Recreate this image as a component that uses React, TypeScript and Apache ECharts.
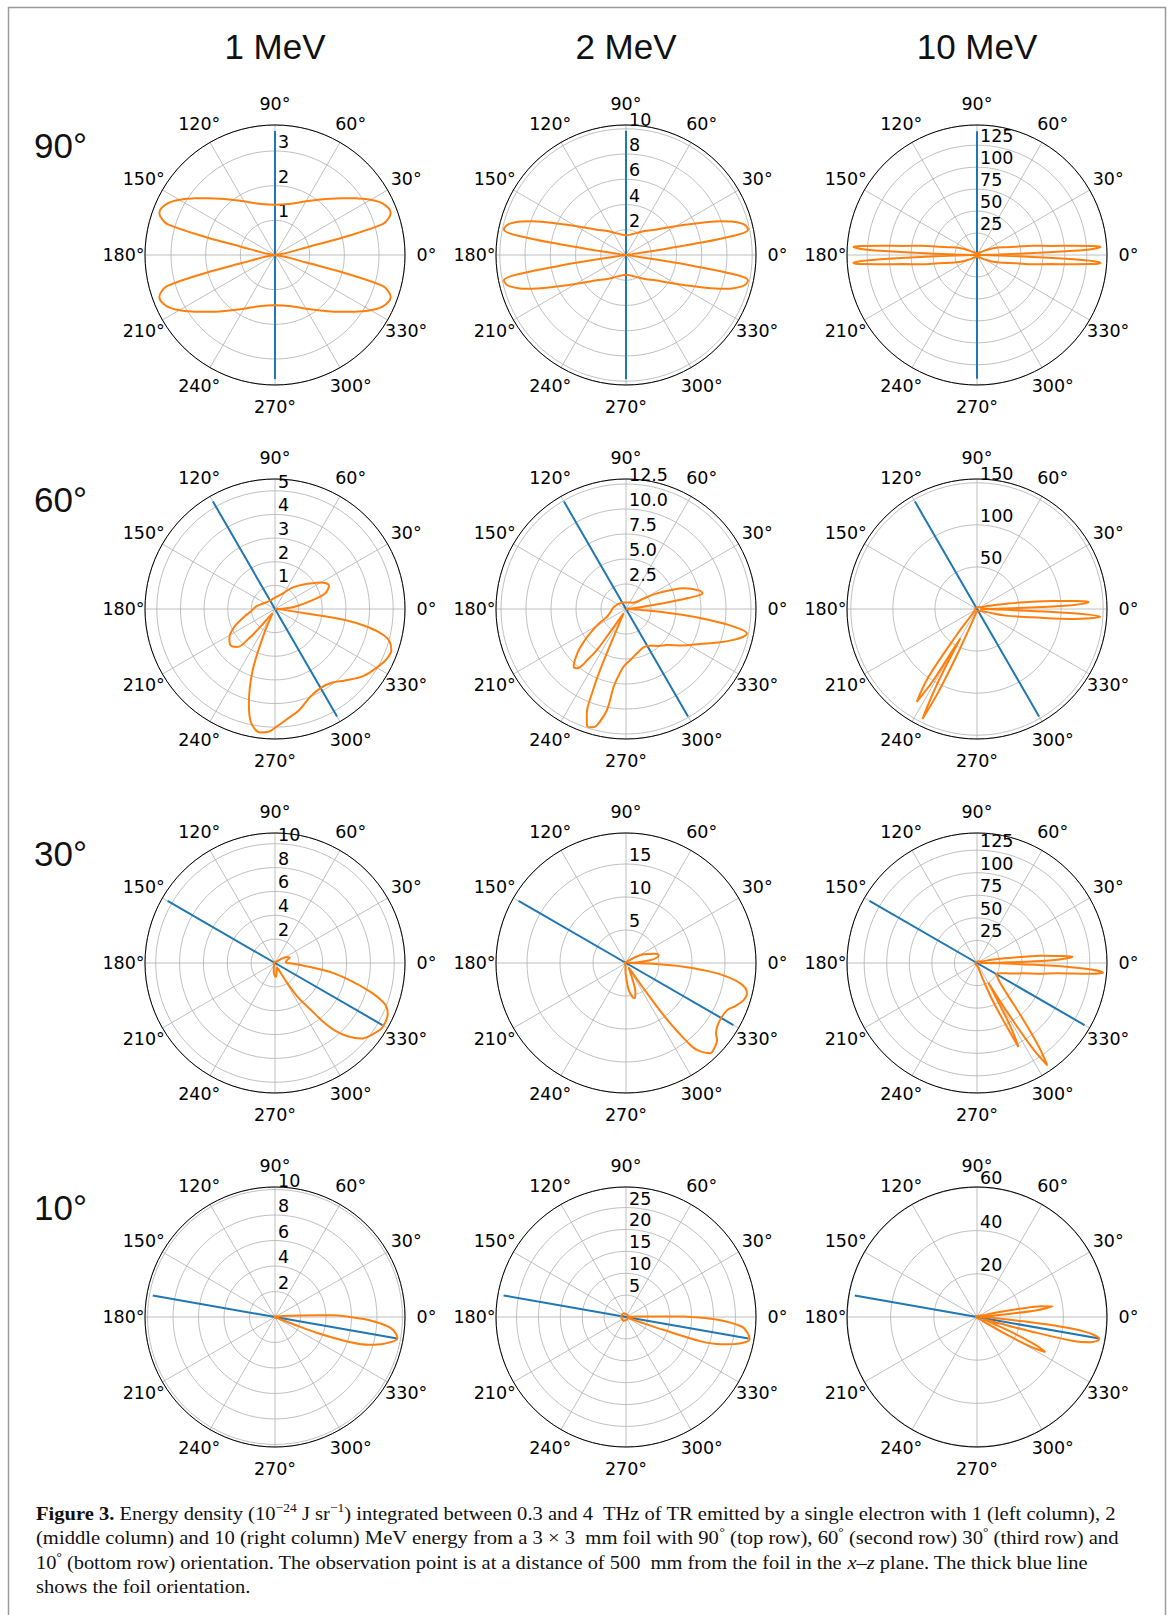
import { useEffect, useRef } from 'react';
import * as echarts from 'echarts';

// ---------------- data ----------------
const ENERGY_TITLES = ['1 MeV', '2 MeV', '10 MeV'];
const ORIENTATION_LABELS = ['90°', '60°', '30°', '10°'];
// foil orientation line angle (deg) per row
const FOIL_ANGLE_DEG = [90, 120, 150, 170];
const ANGLE_TICKS = [0, 30, 60, 90, 120, 150, 180, 210, 240, 270, 300, 330];

// radial axis extent / step / decimals, rows x columns
const R_MAX = [
  [3.75, 10.3, 148],
  [5.5, 13, 154.5],
  [10.9, 19.7, 144],
  [10.2, 29.7, 60.2],
];
const R_STEP = [
  [1, 2, 25],
  [1, 2.5, 50],
  [2, 5, 25],
  [2, 5, 20],
];
const R_DECIMALS = [
  [0, 0, 0],
  [0, 1, 0],
  [0, 0, 0],
  [0, 0, 0],
];
// half-length of the foil line (radial units)
const FOIL_LENGTH = [
  [3.58, 9.84, 141],
  [5.25, 12.4, 147.5],
  [10.4, 18.8, 137.5],
  [9.74, 28.4, 57.5],
];

// energy density curves: [angle deg, value]
const E1_90 = [[0,0],[8,0.1],[11,0.4],[13.6,0.93],[14.5,2.07],[16,3.23],[18,3.45],[20,3.55],[25.7,3.44],[31.2,3.11],[35,2.85],[40,2.55],[48,2.17],[60,1.79],[72.6,1.55],[90,1.45],
  [107.4,1.55],[120,1.79],[132,2.17],[140,2.55],[145,2.85],[148.8,3.11],[154.3,3.44],[160,3.55],[162,3.45],[164,3.23],[165.5,2.07],[166.4,0.93],[169,0.4],[172,0.1],[180,0],
  [188,0.1],[191,0.4],[193.6,0.93],[194.5,2.07],[196,3.23],[198,3.45],[200,3.55],[205.7,3.44],[211.2,3.11],[215,2.85],[220,2.55],[228,2.17],[240,1.79],[252.6,1.55],[270,1.45],
  [287.4,1.55],[300,1.79],[312,2.17],[320,2.55],[325,2.85],[328.8,3.11],[334.3,3.44],[340,3.55],[342,3.45],[344,3.23],[345.5,2.07],[346.4,0.93],[349,0.4],[352,0.1],[360,0]];
const E2_90 = [[0,0],[6,0.1],[8,0.5],[8.7,2.4],[9.2,5.4],[10,8.4],[11.7,9.87],[13.5,9.8],[15.1,9.53],[17.5,8.8],[19.8,7.9],[25,5.88],[32,4.2],[40.7,3.08],[50,2.5],[58,2.15],[75,1.7],[90,1.56],
  [105,1.7],[122,2.15],[130,2.5],[139.3,3.08],[148,4.2],[155,5.88],[160.2,7.9],[162.5,8.8],[164.9,9.53],[166.5,9.8],[168.3,9.87],[170,8.4],[170.8,5.4],[171.3,2.4],[172,0.5],[174,0.1],[180,0],
  [186,0.1],[188,0.5],[188.7,2.4],[189.2,5.4],[190,8.4],[191.7,9.87],[193.5,9.8],[195.1,9.53],[197.5,8.8],[199.8,7.9],[205,5.88],[212,4.2],[220.7,3.08],[230,2.5],[238,2.15],[255,1.7],[270,1.56],
  [285,1.7],[302,2.15],[310,2.5],[319.3,3.08],[328,4.2],[335,5.88],[340.2,7.9],[342.5,8.8],[344.9,9.53],[346.5,9.8],[348.3,9.87],[350,8.4],[350.8,5.4],[351.3,2.4],[352,0.5],[354,0.1],[360,0]];
const E10_90 = [[0,0],[1,3],[1.5,25],[2,70],[2.5,110],[3,132],[3.7,141],[4.5,132],[5.7,106],[7,85],[9.5,64],[12,45],[16,32],[21.6,21.7],[30,10],[45,4],[90,2],
  [135,4],[150,10],[158.4,21.7],[164,32],[168,45],[170.5,64],[173,85],[174.3,106],[175.5,132],[176.3,141],[177,132],[177.5,110],[178,70],[178.5,25],[179,3],[180,0],
  [181,3],[181.5,25],[182,70],[182.5,110],[183,132],[183.7,141],[184.5,132],[185.7,106],[187,85],[189.5,64],[192,45],[196,32],[201.6,21.7],[210,10],[225,4],[270,2],
  [315,4],[330,10],[338.4,21.7],[344,32],[348,45],[350.5,64],[353,85],[354.3,106],[355.5,132],[356.3,141],[357,132],[357.5,110],[358,70],[358.5,25],[359,3],[360,0]];

const E1_60 = [[0,0],[3,0.3],[6,0.8],[11.3,1.36],[17,2.2],[23.5,2.49],[30,2.25],[38.5,1.7],[45,1.4],[52,1.12],[62,0.76],[75,0.58],[90,0.48],[110,0.42],[133,0.43],[155,0.55],[172,0.8],[186,1.03],
  [193,1.3],[200.9,1.71],[206,2.0],[211.5,2.26],[216,2.38],[220.5,2.42],[225.2,2.26],[228.4,1.67],[230.5,0.98],[233,0.4],[240,0.2],[244,0.5],[246,1.13],[250,2.76],[254.6,4.16],[258,4.9],[263.2,5.26],[267,5.2],[270.4,5.0],
  [276,4.7],[283.2,4.41],[292,4.0],[301,3.86],[308,3.95],[314.4,4.23],[323,4.7],[331.7,5.03],[336,5.18],[340.5,5.22],[344,5.05],[346.5,4.72],[349,4.0],[351,3.0],[352,1.35],[355,0.3],[360,0]];
const E2_60 = [[0,0],[4,0.3],[7,1.2],[8.5,3.5],[10,6.3],[11.6,7.82],[14,7.6],[19.8,6.12],[23,4.8],[26.8,3.47],[30,2.3],[33.6,1.32],[45,0.9],[70,0.7],[95,0.65],[122,0.75],[150,0.95],[175,1.3],[192,1.6],
  [202,2.05],[208,3.0],[214,4.32],[218,5.4],[222,6.5],[227.8,7.8],[230.4,7.69],[233,6.3],[234.7,5.02],[235.5,2.5],[237,1.0],[240,0.5],[243,0.6],[244.5,1.2],[246,3.03],[247,6.62],[248,9.0],[249.5,11.2],[251.6,12.33],
  [254,12.3],[256,11.96],[259.3,10.28],[261,7.87],[264,6.6],[267.6,5.77],[274.8,5.12],[284,4.56],[295,4.2],[303.5,4.4],[311,4.9],[318.7,5.46],[327,6.7],[334.8,8.21],[340,9.8],[344,11.2],
  [346.5,12.0],[348.6,12.34],[350.7,10.9],[352.5,8.3],[354,5.79],[356,2.44],[358,0.6],[360,0]];
const E10_60 = [[0,4],[1,30],[2,100],[3.4,133],[4.5,120],[6,90],[7.5,66.5],[10,38],[12.7,21.5],[18,9],[30,4],[60,2.5],[120,2],[180,2.5],[220,4],[228,10],[232,40],[234.5,100],[237,131.5],
  [238.5,100],[239.5,55],[240.5,40],[242,100],[243.6,146],[245,110],[246.5,60],[249,20],[255,6],[270,3],[300,3],[330,5],[342,12],[347,35],[351.5,66.6],[354,115],[356.4,146.9],[357.5,110],
  [358.5,40],[359.3,8],[360,4]];

const E1_30 = [[0,1.0],[5,0.9],[12,1.0],[20,1.3],[27,1.1],[35,0.5],[45,0.15],[90,0.1],[180,0.1],[240,0.15],[258,0.5],[266,0.95],[273,1.15],[280,0.8],[290,0.4],[298,0.6],[301.4,2.0],
  [303.5,3.3],[306.6,4.57],[311.4,7.5],[318.7,9.6],[324.6,10.2],[329.3,10.5],[335.9,10.35],[339.7,9.77],[343.7,8.09],[350,5.03],[355.5,2.17],[358,1.4],[360,1.0]];
const E2_30 = [[0,0.3],[3,1.5],[6,3.5],[10,4.8],[13.8,5.09],[18,4.5],[26.3,2.97],[33,1.5],[40,0.6],[60,0.2],[180,0.2],[255,0.3],[265,1.0],[270,2.0],[275.6,4.06],[281,5.3],[284.9,5.49],
  [288,4.6],[290.8,3.24],[295,1.5],[300,0.8],[302,1.0],[304.5,4.5],[306,10.6],[308,15.5],[309.2,17.0],[313,18.7],[316,18.6],[319.8,18.06],[322,17.3],[327.4,16.7],[335,16.9],
  [338.5,17.8],[342.5,18.7],[345.9,18.9],[349.9,17.6],[353.5,13.9],[356.3,8.74],[358.5,3.5],[360,0.3]];
const E10_30 = [[0,3],[1,30],[2,80],[3,100],[3.8,106],[5,90],[6.6,70.8],[9,35],[14,12],[25,4],[60,2],[180,2],[270,3],[285,5],[290,20],[293,50],[296.3,103.7],[297.8,80],[299,40],[300,25],
  [301.5,60],[303,110],[304.5,137.5],[306.5,115],[309.2,81.7],[314.3,47],[320,33],[326,27],[332,24.5],[338,30],[343,40],[347.5,52.9],[350,68],[352.7,89.8],[354.5,125],[355.6,140],
  [356.8,125],[358,80],[359.2,25],[360,3]];

const E1_10 = [[0,5.9],[1.6,4.63],[3.6,2.0],[6,0.7],[10,0.25],[20,0.1],[90,0.05],[180,0.05],[270,0.05],[320,0.1],[334,0.2],[337,0.5],[338.5,1.5],[339.3,3.55],[341.5,6.26],[343.5,7.7],
  [346.2,8.8],[350,9.75],[352,9.6],[354.6,9.11],[356.5,8.3],[358.3,7.25],[360,5.9]];
const E2_10 = [[0,15],[0.6,13.3],[1.4,5.6],[3,1.5],[6,0.4],[30,0.5],[60,0.6],[120,1.0],[180,1.1],[240,1.0],[300,0.6],[330,0.4],[338,0.5],[340,3.0],[341,9.0],[342,18.0],[344,22.5],
  [346,25.6],[348,27.8],[349.8,28.7],[352.5,28.0],[355.3,26.5],[358.3,21.0],[360,15]];
const E10_10 = [[0,1],[3,2],[5,10],[6.5,28],[8,35.4],[9.5,30],[11,20],[13,10],[16,3],[25,1],[90,0.5],[180,0.5],[270,0.5],[320,1],[326,4],[329,15],[331,28],[332.9,35.6],[334.5,30],
  [336,20],[338,8],[341,3],[344,8],[345,25],[346,46],[347.5,54],[349.8,57.5],[351.5,54],[352.9,45.2],[354,33],[354.7,21.6],[356,10],[358,3],[360,1]];

const CURVES = [
  [E1_90, E2_90, E10_90],
  [E1_60, E2_60, E10_60],
  [E1_30, E2_30, E10_30],
  [E1_10, E2_10, E10_10],
];

// caption lines: [text, style]
const CAPTION_LINES = [
  [['Figure 3.', 'b'], [' Energy density (10', 'n'], ['−24', 's'], [' J sr', 'n'], ['−1', 's'], [') integrated between 0.3 and 4  THz of TR emitted by a single electron with 1 (left column), 2', 'n']],
  [['(middle column) and 10 (right column) MeV energy from a 3 × 3  mm foil with 90', 'n'], ['°', 's'], [' (top row), 60', 'n'], ['°', 's'], [' (second row) 30', 'n'], ['°', 's'], [' (third row) and', 'n']],
  [['10', 'n'], ['°', 's'], [' (bottom row) orientation. The observation point is at a distance of 500  mm from the foil in the ', 'n'], ['x', 'i'], ['–', 'n'], ['z', 'i'], [' plane. The thick blue line', 'n']],
  [['shows the foil orientation.', 'n']],
];

// ---------------- layout ----------------
const W = 1171;
const H = 1615;
const CX = [275, 626, 977];
const CY = [255, 609, 963, 1317];
const RADIUS = 130;
const ANGLE_LABEL_R = 151.5;
const TITLE_Y = 46;
const ROW_LABEL_DY = -110;
const CAPTION_X = 36;
const CAPTION_Y = [1513, 1537.5, 1562, 1586.5];
const CAPTION_TARGET_W = [1081, 1083, 1052, 0];
const CAP_FONT = 19;

const toPolarData = (pts: number[][]) =>
  pts.map(([deg, r]) => [r, (((deg - 90) % 360) + 360) % 360]);

const App = () => {
  const ref = useRef<HTMLDivElement | null>(null);

  useEffect(() => {
    if (!ref.current) return;
    const chart = echarts.init(ref.current, undefined, { renderer: 'svg', width: W, height: H });

    const polar: any[] = [];
    const angleAxis: any[] = [];
    const radiusAxis: any[] = [];
    const series: any[] = [];
    const graphic: any[] = [];

    for (let row = 0; row < 4; row++) {
      for (let col = 0; col < 3; col++) {
        const i = row * 3 + col;
        polar.push({ center: [CX[col], CY[row]], radius: RADIUS });
        angleAxis.push({
          polarIndex: i,
          type: 'value',
          min: 0,
          max: 360,
          interval: 30,
          startAngle: 90,
          clockwise: false,
          axisLine: { show: true, lineStyle: { color: '#000', width: 1 } },
          axisTick: { show: false },
          axisLabel: { show: false },
          splitLine: { show: true, lineStyle: { color: '#b0b0b0', width: 0.8 } },
        });
        const dec = R_DECIMALS[row][col];
        radiusAxis.push({
          polarIndex: i,
          type: 'value',
          min: 0,
          max: R_MAX[row][col],
          interval: R_STEP[row][col],
          axisLine: { show: false },
          axisTick: { show: false },
          splitLine: { show: true, lineStyle: { color: '#b0b0b0', width: 0.8 } },
          axisLabel: {
            show: true,
            showMinLabel: false,
            showMaxLabel: false,
            margin: -3,
            align: 'left',
            verticalAlign: 'bottom',
            color: '#000',
            fontFamily: 'DejaVu Sans',
            fontSize: 17.5,
            formatter: (v: number) => (dec ? v.toFixed(dec) : String(Math.round(v))),
          },
        });
        const fa = FOIL_ANGLE_DEG[row];
        const L = FOIL_LENGTH[row][col];
        series.push({
          type: 'line',
          coordinateSystem: 'polar',
          polarIndex: i,
          data: toPolarData([[fa, L], [fa, 0], [fa + 180, L]]),
          symbol: 'none',
          lineStyle: { color: '#1f77b4', width: 2 },
          z: 3,
          silent: true,
        });
        series.push({
          type: 'line',
          coordinateSystem: 'polar',
          polarIndex: i,
          data: toPolarData(CURVES[row][col]),
          symbol: 'none',
          smooth: 0.35,
          lineStyle: { color: '#ff7f0e', width: 2 },
          z: 4,
          silent: true,
        });
        // angle tick labels
        ANGLE_TICKS.forEach((t) => {
          const a = (t * Math.PI) / 180;
          graphic.push({
            type: 'text',
            x: CX[col] + ANGLE_LABEL_R * Math.cos(a),
            y: CY[row] - ANGLE_LABEL_R * Math.sin(a),
            silent: true,
            style: {
              text: `${t}°`,
              fontFamily: 'DejaVu Sans',
              fontSize: 17.5,
              fill: '#000',
              align: 'center',
              verticalAlign: 'middle',
            },
          });
        });
      }
    }

    // border
    graphic.push({
      type: 'rect',
      shape: { x: 8.5, y: 7.5, width: 1157, height: 1660 },
      style: { fill: 'none', stroke: '#9a9a9a', lineWidth: 1.5 },
      silent: true,
      z: -1,
    });
    // column titles
    ENERGY_TITLES.forEach((t, c) => {
      graphic.push({
        type: 'text',
        x: CX[c],
        y: TITLE_Y,
        silent: true,
        style: { text: t, fontFamily: 'Liberation Sans', fontSize: 35, fill: '#111', align: 'center', verticalAlign: 'middle' },
      });
    });
    // row labels
    ORIENTATION_LABELS.forEach((t, r) => {
      graphic.push({
        type: 'text',
        x: 34,
        y: CY[r] + ROW_LABEL_DY,
        silent: true,
        style: { text: t, fontFamily: 'Liberation Sans', fontSize: 35, fill: '#111', align: 'left', verticalAlign: 'middle' },
      });
    });

    // caption
    const canvas = document.createElement('canvas');
    const ctx = canvas.getContext('2d');
    const fontFor = (k: string) => {
      const size = k === 's' ? 12.5 : CAP_FONT;
      const style = k === 'i' ? 'italic ' : '';
      const weight = k === 'b' ? 'bold ' : '';
      return `${style}${weight}${size}px "Liberation Serif"`;
    };
    const measure = (segs: any[]) => {
      let w = 0;
      segs.forEach(([txt, k]) => {
        if (ctx) {
          ctx.font = fontFor(k);
          w += ctx.measureText(txt).width;
        }
      });
      return w;
    };
    const scales = CAPTION_LINES.map((segs, idx) => {
      const tw = CAPTION_TARGET_W[idx];
      const mw = measure(segs);
      return tw && mw ? tw / mw : 0;
    });
    const valid = scales.filter((s) => s > 0);
    const avgScale = valid.length ? valid.reduce((a, b) => a + b, 0) / valid.length : 1;
    const rich = {
      n: { fontFamily: 'Liberation Serif', fontSize: CAP_FONT, lineHeight: 24, fill: '#111', verticalAlign: 'middle' },
      b: { fontFamily: 'Liberation Serif', fontSize: CAP_FONT, fontWeight: 'bold', lineHeight: 24, fill: '#111', verticalAlign: 'middle' },
      i: { fontFamily: 'Liberation Serif', fontSize: CAP_FONT, fontStyle: 'italic', lineHeight: 24, fill: '#111', verticalAlign: 'middle' },
      s: { fontFamily: 'Liberation Serif', fontSize: 12.5, lineHeight: 14, fill: '#111', verticalAlign: 'top' },
    };
    CAPTION_LINES.forEach((segs, idx) => {
      const text = segs.map(([txt, k]) => `{${k}|${txt}}`).join('');
      graphic.push({
        type: 'text',
        x: CAPTION_X,
        y: CAPTION_Y[idx],
        scaleX: scales[idx] || avgScale,
        silent: true,
        style: { text, rich, align: 'left', verticalAlign: 'middle' },
      });
    });

    chart.setOption({
      animation: false,
      backgroundColor: '#fff',
      polar,
      angleAxis,
      radiusAxis,
      series,
      graphic,
    });

    return () => chart.dispose();
  }, []);

  return (
    <div
      ref={ref}
      style={{ position: 'absolute', left: 0, top: 0, width: W, height: H, background: '#fff' }}
    />
  );
};

export default App;
